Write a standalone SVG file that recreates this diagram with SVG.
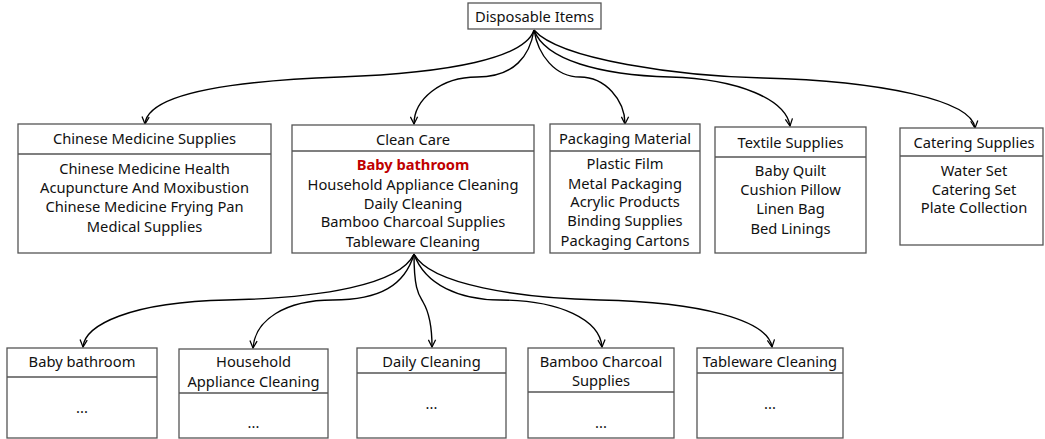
<svg xmlns="http://www.w3.org/2000/svg" width="1045" height="439" viewBox="0 0 1045 439">
<defs>
<style>
.box{fill:#fff;stroke:#555;stroke-width:1.3}
.t{font-family:"Noto Sans","Liberation Sans",sans-serif;font-size:14.7px;fill:#111;text-anchor:middle;dominant-baseline:central}
.red{fill:#c00000;font-weight:bold}
.edge{fill:none;stroke:#000;stroke-width:1.4;marker-end:url(#arr)}
</style>
<marker id="arr" viewBox="0 0 10 10" refX="9" refY="5" markerWidth="9" markerHeight="9" orient="auto" markerUnits="userSpaceOnUse">
<path d="M1,1 L9,5 L1,9" fill="none" stroke="#000" stroke-width="1.4"/>
</marker>
</defs>
<rect width="1045" height="439" fill="#fff"/>
<g id="connectors">
<path class="edge" d="M534,30 C525,58 450,73 340,77 C200,82 147,100 145,124"/>
<path class="edge" d="M534,30 C530,55 515,77 477,77 C440,77 414,100 414,124"/>
<path class="edge" d="M534,30 C538,55 555,77 580,77 C605,77 625,100 625,124"/>
<path class="edge" d="M534,30 C545,60 600,75 670,77 C740,79 786,100 790,126"/>
<path class="edge" d="M534,30 C560,60 680,76 763,78 C880,81 972,100 975,128"/>
<path class="edge" d="M414,254 C400,285 320,298 227,300 C130,302 85,325 83,347"/>
<path class="edge" d="M414,254 C405,285 380,300 333,300 C285,300 255,320 253,348"/>
<path class="edge" d="M414,254 C414,290 419,295 423,302 C429,312 432,330 432,347"/>
<path class="edge" d="M414,254 C425,285 460,300 500,300 C560,300 600,320 602,347"/>
<path class="edge" d="M414,254 C430,285 520,298 600,300 C700,302 768,320 772,347"/>
</g>
<g id="root">
<rect class="box" x="468" y="3" width="133" height="26"/>
<text class="t" x="534.5" y="16">Disposable Items</text>
</g>
<g id="chinese-medicine">
<rect class="box" x="18" y="124" width="253" height="129"/>
<line class="box" x1="18" y1="154" x2="271" y2="154"/>
<text class="t" x="144.5" y="138">Chinese Medicine Supplies</text>
<text class="t" x="144.5" y="168">Chinese Medicine Health</text>
<text class="t" x="144.5" y="187">Acupuncture And Moxibustion</text>
<text class="t" x="144.5" y="206">Chinese Medicine Frying Pan</text>
<text class="t" x="144.5" y="226">Medical Supplies</text>
</g>
<g id="clean-care">
<rect class="box" x="292" y="125" width="242" height="128"/>
<line class="box" x1="292" y1="151" x2="534" y2="151"/>
<text class="t" x="413" y="139">Clean Care</text>
<text class="t red" x="413" y="164">Baby bathroom</text>
<text class="t" x="413" y="184">Household Appliance Cleaning</text>
<text class="t" x="413" y="203">Daily Cleaning</text>
<text class="t" x="413" y="221">Bamboo Charcoal Supplies</text>
<text class="t" x="413" y="241">Tableware Cleaning</text>
</g>
<g id="packaging">
<rect class="box" x="550" y="124" width="150" height="129"/>
<line class="box" x1="550" y1="151" x2="700" y2="151"/>
<text class="t" x="625" y="138">Packaging Material</text>
<text class="t" x="625" y="163">Plastic Film</text>
<text class="t" x="625" y="183">Metal Packaging</text>
<text class="t" x="625" y="201">Acrylic Products</text>
<text class="t" x="625" y="220">Binding Supplies</text>
<text class="t" x="625" y="240">Packaging Cartons</text>
</g>
<g id="textile">
<rect class="box" x="715" y="127" width="151" height="126"/>
<line class="box" x1="715" y1="157" x2="866" y2="157"/>
<text class="t" x="790.5" y="142">Textile Supplies</text>
<text class="t" x="790.5" y="170">Baby Quilt</text>
<text class="t" x="790.5" y="189">Cushion Pillow</text>
<text class="t" x="790.5" y="208">Linen Bag</text>
<text class="t" x="790.5" y="228">Bed Linings</text>
</g>
<g id="catering">
<rect class="box" x="900" y="128" width="143" height="117"/>
<line class="box" x1="900" y1="156" x2="1043" y2="156"/>
<text class="t" x="974" y="142">Catering Supplies</text>
<text class="t" x="974" y="170">Water Set</text>
<text class="t" x="974" y="189">Catering Set</text>
<text class="t" x="974" y="207">Plate Collection</text>
</g>
<g id="sub-baby">
<rect class="box" x="7" y="348" width="150" height="90"/>
<line class="box" x1="7" y1="377" x2="157" y2="377"/>
<text class="t" x="82" y="361">Baby bathroom</text>
<text class="t" x="82" y="407">...</text>
</g>
<g id="sub-household">
<rect class="box" x="179" y="349" width="149" height="89"/>
<line class="box" x1="179" y1="393" x2="328" y2="393"/>
<text class="t" x="253.5" y="361">Household</text>
<text class="t" x="253.5" y="381">Appliance Cleaning</text>
<text class="t" x="253.5" y="422">...</text>
</g>
<g id="sub-daily">
<rect class="box" x="357" y="348" width="149" height="90"/>
<line class="box" x1="357" y1="373" x2="506" y2="373"/>
<text class="t" x="431.5" y="361">Daily Cleaning</text>
<text class="t" x="431.5" y="403">...</text>
</g>
<g id="sub-bamboo">
<rect class="box" x="528" y="348" width="146" height="90"/>
<line class="box" x1="528" y1="392" x2="674" y2="392"/>
<text class="t" x="601" y="361">Bamboo Charcoal</text>
<text class="t" x="601" y="380">Supplies</text>
<text class="t" x="601" y="422">...</text>
</g>
<g id="sub-tableware">
<rect class="box" x="697" y="348" width="146" height="90"/>
<line class="box" x1="697" y1="373" x2="843" y2="373"/>
<text class="t" x="770" y="361">Tableware Cleaning</text>
<text class="t" x="770" y="403">...</text>
</g>
</svg>
